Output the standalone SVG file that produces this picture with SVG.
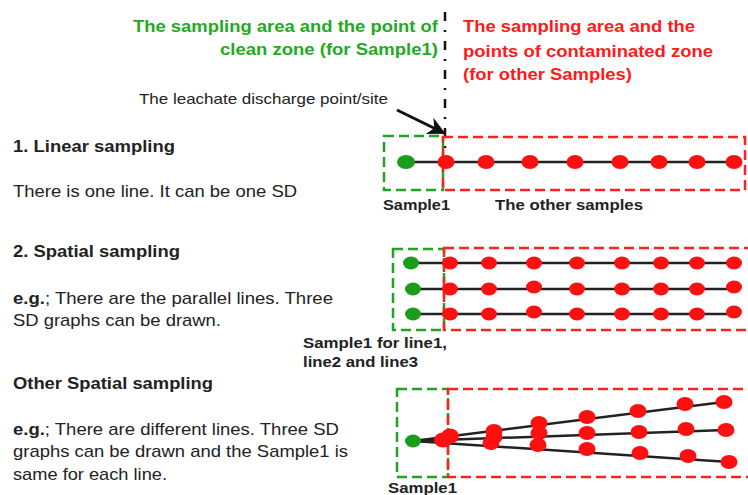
<svg xmlns="http://www.w3.org/2000/svg" width="748" height="495" viewBox="0 0 748 495">
  <style>
    text { font-family: "Liberation Sans", Arial, sans-serif; }
    .zone-g { fill: #22aa22; font-weight: bold; font-size: 17px; }
    .zone-r { fill: #ff1a1a; font-weight: bold; font-size: 17px; }
    .head { fill: #222; font-weight: bold; font-size: 17px; }
    .body { fill: #222; font-size: 17px; }
    .lbl { fill: #222; font-weight: bold; font-size: 14.5px; }
    .note { fill: #222; font-size: 14.5px; }
    .box-g { fill: none; stroke: #22a322; stroke-width: 2.5; stroke-dasharray: 10 5; }
    .box-r { fill: none; stroke: #ff2020; stroke-width: 2.5; stroke-dasharray: 10 5; }
    .ln { stroke: #222; stroke-width: 2.5; fill: none; }
    .dg { fill: #1a9e1a; }
    .dr { fill: #ff1010; }
  </style>
  <defs>
    <marker id="arrowhead" viewBox="0 0 10 10" refX="9" refY="5" markerWidth="6" markerHeight="6" markerUnits="strokeWidth" orient="auto">
      <path d="M0,0 L10,5 L0,10 L3,5 Z" fill="#111"/>
    </marker>
  </defs>

  <rect width="748" height="495" fill="#fff"/>

  <!-- zone captions -->
  <g id="clean-zone-caption">
    <text class="zone-g" x="438" y="32" text-anchor="end" textLength="305" lengthAdjust="spacingAndGlyphs">The sampling area and the point of</text>
    <text class="zone-g" x="438" y="55" text-anchor="end" textLength="218" lengthAdjust="spacingAndGlyphs">clean zone (for Sample1)</text>
  </g>
  <g id="contaminated-zone-caption">
    <text class="zone-r" x="463" y="32" textLength="232" lengthAdjust="spacingAndGlyphs">The sampling area and the</text>
    <text class="zone-r" x="463" y="57" textLength="250" lengthAdjust="spacingAndGlyphs">points of contaminated zone</text>
    <text class="zone-r" x="463" y="80" textLength="169" lengthAdjust="spacingAndGlyphs">(for other Samples)</text>
  </g>

  <!-- boundary between clean and contaminated zones -->
  <g id="boundary">
    <line x1="445" y1="12" x2="445" y2="148" stroke="#111" stroke-width="2.5" stroke-dasharray="9 9 2 9"/>
  </g>

  <g id="discharge-point">
    <text class="note" x="139" y="104" textLength="249" lengthAdjust="spacingAndGlyphs">The leachate discharge point/site</text>
  </g>

  <!-- descriptions -->
  <g id="linear-text">
    <text class="head" x="13" y="152" textLength="162" lengthAdjust="spacingAndGlyphs">1. Linear sampling</text>
    <text class="body" x="13" y="197" textLength="284" lengthAdjust="spacingAndGlyphs">There is one line. It can be one SD</text>
  </g>
  <g id="spatial-text">
    <text class="head" x="13" y="257" textLength="167" lengthAdjust="spacingAndGlyphs">2. Spatial sampling</text>
    <text class="body" x="13" y="304" textLength="320" lengthAdjust="spacingAndGlyphs"><tspan font-weight="bold">e.g.</tspan>; There are the parallel lines. Three</text>
    <text class="body" x="13" y="326" textLength="208" lengthAdjust="spacingAndGlyphs">SD graphs can be drawn.</text>
  </g>
  <g id="other-spatial-text">
    <text class="head" x="13" y="389" textLength="200" lengthAdjust="spacingAndGlyphs">Other Spatial sampling</text>
    <text class="body" x="13" y="435" textLength="326" lengthAdjust="spacingAndGlyphs"><tspan font-weight="bold">e.g.</tspan>; There are different lines. Three SD</text>
    <text class="body" x="13" y="457" textLength="335" lengthAdjust="spacingAndGlyphs">graphs can be drawn and the Sample1 is</text>
    <text class="body" x="13" y="480" textLength="154" lengthAdjust="spacingAndGlyphs">same for each line.</text>
  </g>

  <!-- 1. linear sampling -->
  <g id="linear-diagram">
    <rect class="box-g" x="384" y="136" width="59" height="54"/>
    <rect class="box-r" x="443" y="137" width="302" height="53"/>
    <line class="ln" x1="407" y1="162" x2="733" y2="162" stroke-width="2"/>
    <ellipse class="dg" cx="406" cy="162" rx="9" ry="7"/>
    <g class="dr">
      <ellipse cx="446" cy="162" rx="8.5" ry="7"/>
      <ellipse cx="486" cy="162" rx="8.5" ry="7"/>
      <ellipse cx="530" cy="162" rx="8.5" ry="7"/>
      <ellipse cx="575" cy="162" rx="8.5" ry="7"/>
      <ellipse cx="620" cy="162" rx="8.5" ry="7"/>
      <ellipse cx="659" cy="162" rx="8.5" ry="7"/>
      <ellipse cx="697" cy="162" rx="8.5" ry="7"/>
      <ellipse cx="734" cy="162" rx="8.5" ry="7"/>
    </g>
    <text class="lbl" x="383" y="210" textLength="67" lengthAdjust="spacingAndGlyphs">Sample1</text>
    <text class="lbl" x="495" y="210" textLength="148" lengthAdjust="spacingAndGlyphs">The other samples</text>
  </g>

  <!-- 2. spatial sampling: parallel lines -->
  <g id="spatial-diagram">
    <rect class="box-g" x="393" y="249" width="51" height="81"/>
    <rect class="box-r" x="444" y="248" width="320" height="82"/>
    <g class="ln">
      <line x1="411" y1="263" x2="734" y2="263"/>
      <line x1="413" y1="289" x2="734" y2="289"/>
      <line x1="413" y1="314" x2="734" y2="314"/>
    </g>
    <g class="dg">
      <ellipse cx="411" cy="263" rx="8" ry="6.5"/>
      <ellipse cx="413" cy="289" rx="8" ry="6.5"/>
      <ellipse cx="413" cy="314" rx="8" ry="6.5"/>
    </g>
    <g class="dr">
      <ellipse cx="450" cy="263" rx="8" ry="6.5"/>
      <ellipse cx="489" cy="263" rx="8" ry="6.5"/>
      <ellipse cx="534" cy="263" rx="8" ry="6.5"/>
      <ellipse cx="577" cy="263" rx="8" ry="6.5"/>
      <ellipse cx="622" cy="263" rx="8" ry="6.5"/>
      <ellipse cx="661" cy="263" rx="8" ry="6.5"/>
      <ellipse cx="697" cy="263" rx="8" ry="6.5"/>
      <ellipse cx="734" cy="263" rx="8" ry="6.5"/>
      <ellipse cx="450" cy="289" rx="8" ry="6.5"/>
      <ellipse cx="489" cy="289" rx="8" ry="6.5"/>
      <ellipse cx="534" cy="287" rx="8" ry="6.5"/>
      <ellipse cx="577" cy="289" rx="8" ry="6.5"/>
      <ellipse cx="622" cy="289" rx="8" ry="6.5"/>
      <ellipse cx="661" cy="289" rx="8" ry="6.5"/>
      <ellipse cx="697" cy="289" rx="8" ry="6.5"/>
      <ellipse cx="734" cy="287" rx="8" ry="6.5"/>
      <ellipse cx="450" cy="314" rx="8" ry="6.5"/>
      <ellipse cx="489" cy="314" rx="8" ry="6.5"/>
      <ellipse cx="534" cy="312" rx="8" ry="6.5"/>
      <ellipse cx="577" cy="314" rx="8" ry="6.5"/>
      <ellipse cx="622" cy="314" rx="8" ry="6.5"/>
      <ellipse cx="661" cy="314" rx="8" ry="6.5"/>
      <ellipse cx="697" cy="314" rx="8" ry="6.5"/>
      <ellipse cx="734" cy="312" rx="8" ry="6.5"/>
    </g>
    <text class="lbl" x="303" y="348" textLength="144" lengthAdjust="spacingAndGlyphs">Sample1 for line1,</text>
    <text class="lbl" x="303" y="367" textLength="115" lengthAdjust="spacingAndGlyphs">line2 and line3</text>
  </g>

  <!-- other spatial sampling: diverging lines from one point -->
  <g id="other-spatial-diagram">
    <rect class="box-g" x="397" y="389" width="51" height="88"/>
    <rect class="box-r" x="448" y="389" width="320" height="88"/>
    <g class="ln">
      <line x1="413" y1="441" x2="724" y2="402"/>
      <line x1="413" y1="441" x2="726" y2="430"/>
      <line x1="413" y1="441" x2="729" y2="462"/>
    </g>
    <ellipse class="dg" cx="413" cy="441" rx="8" ry="6.5"/>
    <g class="dr">
      <ellipse cx="443" cy="440" rx="9" ry="7.5"/>
      <ellipse cx="450" cy="436" rx="9" ry="7.5"/>
      <ellipse cx="494" cy="431" rx="8.5" ry="7"/>
      <ellipse cx="494" cy="437" rx="8.5" ry="7"/>
      <ellipse cx="491" cy="443" rx="8.5" ry="7"/>
      <ellipse cx="539" cy="423" rx="8.5" ry="7"/>
      <ellipse cx="539" cy="433" rx="8.5" ry="7"/>
      <ellipse cx="538" cy="445" rx="8.5" ry="7"/>
      <ellipse cx="587" cy="417" rx="8.5" ry="7"/>
      <ellipse cx="587" cy="433" rx="8.5" ry="7"/>
      <ellipse cx="587" cy="449" rx="8.5" ry="7"/>
      <ellipse cx="638" cy="411" rx="8.5" ry="7"/>
      <ellipse cx="639" cy="432" rx="8.5" ry="7"/>
      <ellipse cx="640" cy="453" rx="8.5" ry="7"/>
      <ellipse cx="685" cy="404" rx="8.5" ry="7"/>
      <ellipse cx="686" cy="429" rx="8.5" ry="7"/>
      <ellipse cx="688" cy="456" rx="8.5" ry="7"/>
      <ellipse cx="724" cy="402" rx="8.5" ry="7"/>
      <ellipse cx="726" cy="430" rx="8.5" ry="7"/>
      <ellipse cx="729" cy="462" rx="8.5" ry="7"/>
    </g>
    <text class="lbl" x="388" y="493" textLength="69" lengthAdjust="spacingAndGlyphs">Sample1</text>
  </g>

  <!-- connectors -->
  <g id="connectors">
    <line x1="397" y1="110" x2="444" y2="133" stroke="#111" stroke-width="3" marker-end="url(#arrowhead)"/>
  </g>
</svg>
